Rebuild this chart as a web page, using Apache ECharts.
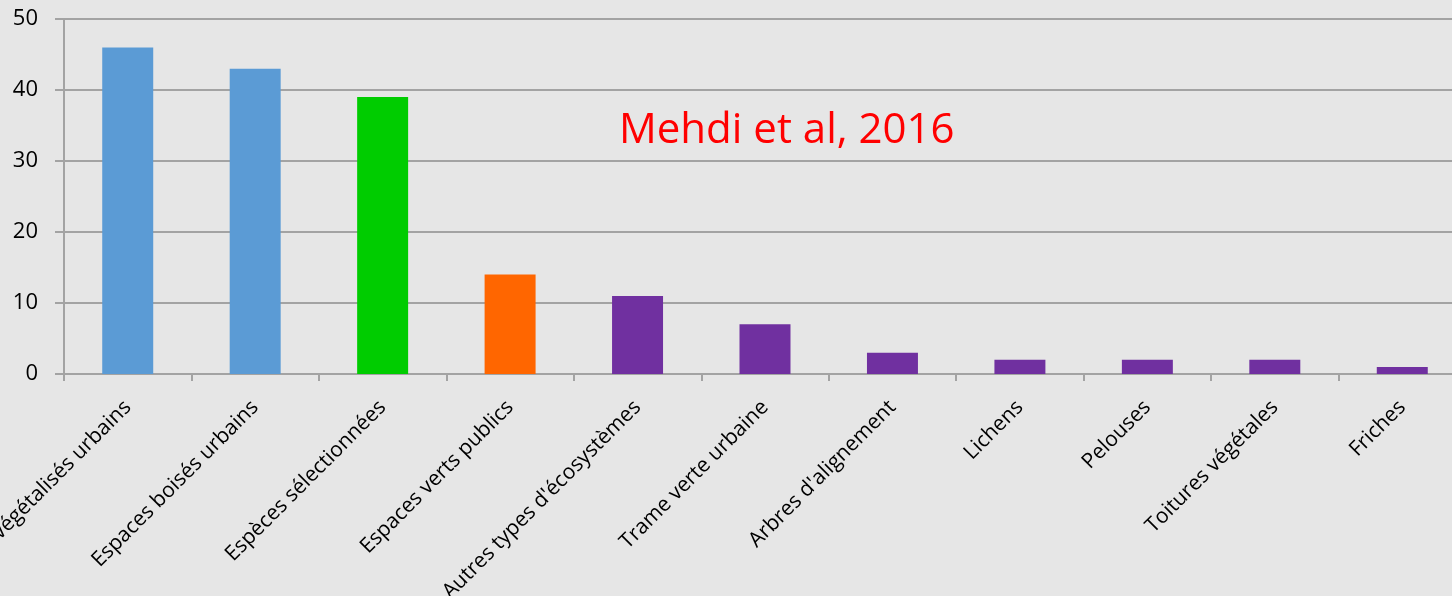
<!DOCTYPE html>
<html>
<head>
<meta charset="utf-8">
<script src="https://cdn.jsdelivr.net/npm/echarts@6/dist/echarts.min.js"></script>
<style>
  html, body { margin: 0; padding: 0; background: #e6e6e6; }
  #chart { width: 1452px; height: 596px; }
</style>
</head>
<body>
<div id="chart"></div>
<script>
const categories = [
  "Espaces végétalisés urbains", "Espaces boisés urbains", "Espèces sélectionnées",
  "Espaces verts publics", "Autres types d'écosystèmes", "Trame verte urbaine",
  "Arbres d'alignement", "Lichens", "Pelouses", "Toitures végétales", "Friches"
];
const values = [46, 43, 39, 14, 11, 7, 3, 2, 2, 2, 1];
const barColors = [
  "#5b9bd5", "#5b9bd5", "#00cc00", "#ff6600", "#7030a0", "#7030a0",
  "#7030a0", "#7030a0", "#7030a0", "#7030a0", "#7030a0"
];
const annotation = "Mehdi et al, 2016";

const font = "'Open Sans', 'Liberation Sans', sans-serif";
const gridColor = "#a3a3a3";

const chart = echarts.init(document.getElementById("chart"));
chart.setOption({
  backgroundColor: "#e6e6e6",
  animation: false,
  title: {
    text: annotation,
    left: 614,
    top: 105,
    textStyle: { color: "#ff0000", fontFamily: font, fontWeight: "normal", fontSize: 42 }
  },
  grid: { left: 64, right: -14, top: 19, bottom: 222, containLabel: false, outerBoundsMode: "none" },
  xAxis: {
    type: "category",
    data: categories,
    axisLine: { lineStyle: { color: gridColor, width: 2 } },
    axisTick: { show: true, length: 7, lineStyle: { color: gridColor, width: 2 } },
    axisLabel: {
      interval: 0,
      rotate: 45,
      margin: 30,
      hideOverlap: false,
      color: "#000",
      fontFamily: font,
      fontSize: 21
    }
  },
  yAxis: {
    type: "value",
    min: 0,
    max: 50,
    interval: 10,
    axisLine: { show: true, lineStyle: { color: gridColor, width: 2 } },
    axisTick: { show: true, length: 9, lineStyle: { color: gridColor, width: 2 } },
    splitLine: { lineStyle: { color: gridColor, width: 2 } },
    axisLabel: { color: "#000", fontFamily: font, fontSize: 22, margin: 26 }
  },
  series: [{
    type: "bar",
    barWidth: "40%",
    data: values.map((v, i) => ({ value: v, itemStyle: { color: barColors[i] } }))
  }]
});
</script>
</body>
</html>
